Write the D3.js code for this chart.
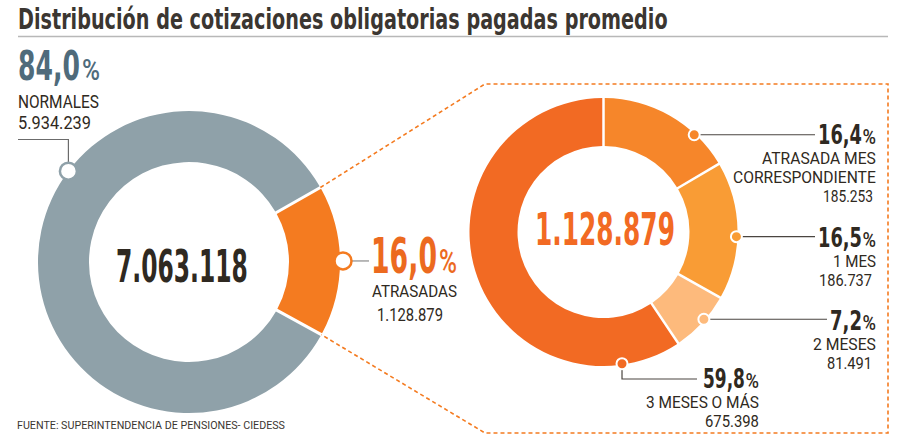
<!DOCTYPE html>
<html>
<head>
<meta charset="utf-8">
<script src="https://cdn.jsdelivr.net/npm/d3@7"></script>
<style>
  body { margin: 0; background: #fff; }
  svg { display: block; }
</style>
</head>
<body>
<svg id="chart" width="900" height="441"></svg>
<script>
// ---- data ----
const title = "Distribución de cotizaciones obligatorias pagadas promedio";
const source = "FUENTE: SUPERINTENDENCIA DE  PENSIONES- CIEDESS";
const mainCategories = ["NORMALES", "ATRASADAS"];
const mainValues = [5934239, 1128879];
const lateCategories = [["ATRASADA MES", "CORRESPONDIENTE"], ["1 MES"], ["2 MESES"], ["3 MESES O MÁS"]];
const lateValues = [185253, 186737, 81491, 675398];

// ---- styles ----
const mainColors = ["#8fa1a9", "#f47b20"];
const lateColors = ["#f6862a", "#f99c35", "#fdba7c", "#f26a23"];
const DARK = "#2f2921";
const FONT = "Roboto, 'Liberation Sans', sans-serif";
const DISPLAY = "'DejaVu Sans', Roboto, sans-serif";

const locale = d3.formatLocale({ decimal: ",", thousands: ".", grouping: [3], currency: ["", ""] });
const fmtInt = locale.format(",d");
const fmtPct = locale.format(".1f");

const svg = d3.select("#chart");

// squeeze text horizontally to a given width (the reference uses a condensed face)
function fitText(x, y, str, width, size, weight, color, anchor, family) {
    const t = svg.append("text")
        .attr("font-family", family || FONT)
        .attr("font-size", size)
        .attr("font-weight", weight)
        .attr("fill", color)
        .text(str);
    const natural = t.node().getComputedTextLength();
    const left = anchor === "end" ? x - width : x;
    t.attr("transform", `translate(${left},${y}) scale(${width / natural},1)`);
    return t;
}
const bigText = (x, y, str, width, size, color, anchor) =>
    fitText(x, y, str, width, size, 700, color, anchor, DISPLAY);

// ---- title ----
bigText(18, 29, title, 650, 28, "#3b3631");
svg.append("line")
    .attr("x1", 18).attr("x2", 888)
    .attr("y1", 36.5).attr("y2", 36.5)
    .attr("stroke", "#b8b8b8").attr("stroke-width", 1.5);

// ===== LEFT DONUT =====
const L = { cx: 189, cy: 262, outer: 151, inner: 100 };
const mainTotal = d3.sum(mainValues);
const fracLate = mainValues[1] / mainTotal;
const mainStart = Math.PI / 2 + Math.PI * fracLate;   // late slice centred at 3 o'clock

const mainPie = d3.pie().sort(null)
    .startAngle(mainStart).endAngle(mainStart + 2 * Math.PI)
    .padAngle(3 / L.outer);
const mainArcs = mainPie(mainValues);
const mainArc = d3.arc().innerRadius(L.inner).outerRadius(L.outer).padRadius(L.outer);

const gL = svg.append("g").attr("transform", `translate(${L.cx},${L.cy})`);
gL.selectAll("path")
    .data(mainArcs)
    .join("path")
    .attr("d", mainArc)
    .attr("fill", (d, i) => mainColors[i]);

const polar = (r, a) => [r * Math.sin(a), -r * Math.cos(a)];

// dashed zoom outline from the late slice to the box
const lateArc = mainArcs[1];
const [tx, ty] = polar(L.outer, lateArc.startAngle);
const [bx, by] = polar(L.outer, lateArc.endAngle);
svg.append("path")
    .attr("d", `M${L.cx + tx},${L.cy + ty} L485,84 H888 V433 H485 L${L.cx + bx},${L.cy + by}`)
    .attr("fill", "none")
    .attr("stroke", "#f47b20")
    .attr("stroke-width", 1.6)
    .attr("stroke-dasharray", "4,3");

// normal marker + leader
const [nx, ny] = polar(L.outer, -53 * Math.PI / 180);
svg.append("path")
    .attr("d", `M18,139.5 H${L.cx + nx} V${L.cy + ny}`)
    .attr("fill", "none").attr("stroke", "#6b6b6b").attr("stroke-width", 1.2);
svg.append("circle")
    .attr("cx", L.cx + nx).attr("cy", L.cy + ny).attr("r", 8.5)
    .attr("fill", "#fff").attr("stroke", mainColors[0]).attr("stroke-width", 2.5);

// late marker + leader
const [ox, oy] = polar(L.outer + 3, (lateArc.startAngle + lateArc.endAngle) / 2);
svg.append("line")
    .attr("x1", L.cx + ox).attr("x2", 369)
    .attr("y1", L.cy + oy).attr("y2", L.cy + oy)
    .attr("stroke", "#8a8a8a").attr("stroke-width", 1.2);
svg.append("circle")
    .attr("cx", L.cx + ox).attr("cy", L.cy + oy).attr("r", 8.5)
    .attr("fill", "#fff").attr("stroke", mainColors[1]).attr("stroke-width", 2.5);

// left labels
const blue = "#4f6b7b";
bigText(18, 80, fmtPct(mainValues[0] / mainTotal * 100), 62, 40, blue);
fitText(82, 80, "%", 18, 29, 500, blue);
fitText(18, 108, mainCategories[0], 81, 18, 400, DARK);
fitText(18, 129, fmtInt(mainValues[0]), 73, 18, 400, DARK);

const orangeDark = "#ec6a1f";
bigText(371, 273, fmtPct(fracLate * 100), 66, 49, orangeDark);
fitText(439, 273, "%", 18, 33, 500, orangeDark);
fitText(372, 297, mainCategories[1], 85, 17, 400, DARK);
fitText(377, 321, fmtInt(mainValues[1]), 66, 18, 400, DARK);

bigText(116, 282, fmtInt(mainTotal), 132, 45, DARK);

// ===== RIGHT DONUT =====
const R = { cx: 603.5, cy: 232, outer: 134, inner: 86 };
const lateTotal = d3.sum(lateValues);
const latePie = d3.pie().sort(null).padAngle(2.5 / R.outer);
const lateArcs = latePie(lateValues);
const rArc = d3.arc().innerRadius(R.inner).outerRadius(R.outer).padRadius(R.outer);

const gR = svg.append("g").attr("transform", `translate(${R.cx},${R.cy})`);
gR.selectAll("path")
    .data(lateArcs)
    .join("path")
    .attr("d", rArc)
    .attr("fill", (d, i) => lateColors[i]);

bigText(535, 245, fmtInt(lateTotal), 140, 44, "#f26a23");

// label placement for each slice
const lateLayout = [
    { angle: 43,  right: 876, numRight: 873, pctW: 44, pctY: 144, lineEnd: 815, lblW: [114, 143], numW: 50 },
    { angle: 92,  right: 876, numRight: 872, pctW: 44, pctY: 247, lineEnd: 815, lblW: [43], numW: 53 },
    { angle: 131, right: 876, numRight: 872, pctW: 32, pctY: 330, lineEnd: 827, lblW: [63], numW: 45 },
    { angle: 172, right: 759, numRight: 759, pctW: 42, pctY: 388, lineEnd: 697, lblW: [113], numW: 54, elbow: 379 }
];

lateValues.forEach((v, i) => {
    const lay = lateLayout[i];
    const [dx, dy] = polar(R.outer - 1, lay.angle * Math.PI / 180);
    const px = R.cx + dx, py = R.cy + dy;

    const leader = lay.elbow
        ? `M${px},${py} V${lay.elbow} H${lay.lineEnd}`
        : `M${px},${py} H${lay.lineEnd}`;
    svg.append("path")
        .attr("d", leader)
        .attr("fill", "none").attr("stroke", "#4a4540").attr("stroke-width", 1.2);
    svg.append("circle")
        .attr("cx", px).attr("cy", py).attr("r", 5.5)
        .attr("fill", lateColors[i]).attr("stroke", "#fff").attr("stroke-width", 2);

    // percentage: digits + small %
    bigText(lay.right - 14 - lay.pctW, lay.pctY, fmtPct(v / lateTotal * 100), lay.pctW, 27, DARK);
    fitText(lay.right - 13.5, lay.pctY, "%", 13.5, 19.5, 500, DARK);

    let y = lay.pctY;
    lateCategories[i].forEach((line, k) => {
        y += k === 0 ? 20 : 19;
        fitText(lay.right, y, line, lay.lblW[k], 17, 400, DARK, "end");
    });
    fitText(lay.numRight, y + 18.5, fmtInt(v), lay.numW, 16, 400, DARK, "end");
});

// ---- source ----
fitText(17, 429, source, 268, 11.7, 400, "#3b3631");
</script>
</body>
</html>
